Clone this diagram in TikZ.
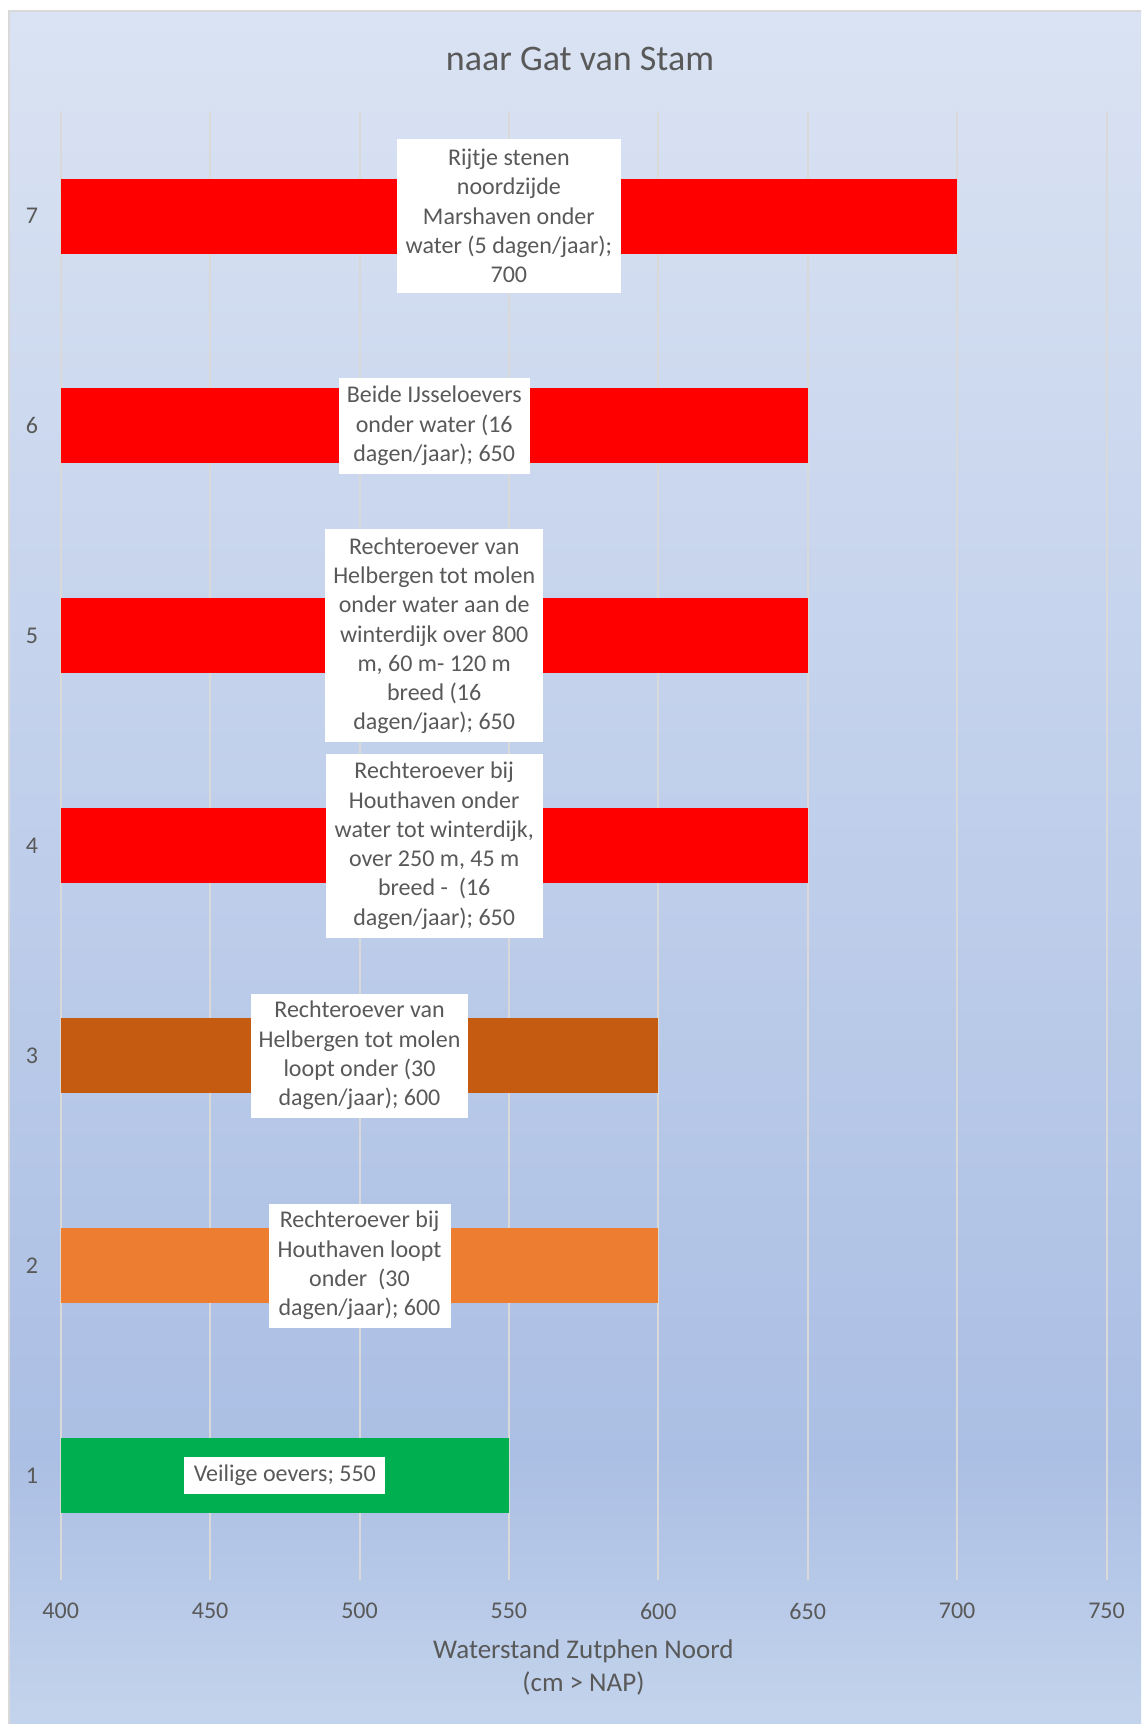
\documentclass[tikz,border=0pt]{standalone}
\usepackage{fontspec}
\setmainfont{Carlito}
\definecolor{txt}{HTML}{595959}
\definecolor{gridc}{HTML}{D9D9D9}
\definecolor{bgtop}{RGB}{218,227,243}
\definecolor{bgdark}{RGB}{171,191,228}
\definecolor{bgbot}{RGB}{196,212,236}
\definecolor{barred}{HTML}{FF0000}
\definecolor{barbrown}{HTML}{C55A11}
\definecolor{barorange}{HTML}{ED7D31}
\definecolor{bargreen}{HTML}{00B050}
\pgfdeclareverticalshading{bgshade}{100bp}{color(0bp)=(bgbot); color(25bp)=(bgbot); color(33bp)=(bgdark); color(75bp)=(bgtop); color(100bp)=(bgtop)}
\newcommand\xpos[1]{60.7+(#1-400)*2.988}
\newcommand\ycat[1]{216+(7-#1)*209.9}
\begin{document}
\begin{tikzpicture}[x=1pt,y=-1pt,
  lbl/.style={fill=white, text=txt, align=center, inner sep=0pt, font=\fontsize{24}{29.3}\selectfont},
  ticklbl/.style={text=txt, font=\fontsize{24}{29}\selectfont, inner sep=0pt},
  gridline/.style={draw=gridc, line width=2pt}]
\useasboundingbox (0,0) rectangle (1141,1724);
\fill[white] (0,0) rectangle (1141,1724);
\begin{scope}
\clip (0,0) rectangle (1141,1724);
\shade[shading=bgshade] (9,11) rectangle (1150,1730);
\draw[gridc, line width=2pt] (9,1730) -- (9,11) -- (1150,11);
\end{scope}
% gridlines
\foreach \v in {400,450,...,750}
  \draw[gridline] ({\xpos{\v}},111) -- ++(0,1469);
% bars
\foreach \k/\val/\col in {7/700/barred,6/650/barred,5/650/barred,4/650/barred,3/600/barbrown,2/600/barorange,1/550/bargreen}
  \fill[\col] ({\xpos{400}},{\ycat{\k}-37.5}) rectangle ({\xpos{\val}},{\ycat{\k}+37.5});
% title
\node[text=txt, font=\fontsize{36}{43}\selectfont, inner sep=0pt] (title) at (580,59) {naar Gat van Stam};
% category labels
\foreach \k in {1,...,7}
  \node[ticklbl] (c\k) at (32,{\ycat{\k}}) {\k};
% tick labels
\foreach \v in {400,450,...,750}
  \node[ticklbl] (t\v) at ({\xpos{\v}},1611) {\v};
% axis title
\node[text=txt, align=center, inner sep=0pt, font=\fontsize{27}{33}\selectfont] (xtitle) at (583.4,1667) {Waterstand Zutphen Noord\\(cm > NAP)};
% data labels
\node[lbl, minimum width=224pt, minimum height=154pt] (l7) at ({\xpos{550}},{\ycat{7}}) {Rijtje stenen\\noordzijde\\Marshaven onder\\water (5 dagen/jaar);\\700};
\node[lbl, minimum width=191pt, minimum height=96pt] (l6) at ({\xpos{525}},{\ycat{6}}) {Beide IJsseloevers\\onder water (16\\dagen/jaar); 650};
\node[lbl, minimum width=218pt, minimum height=213pt] (l5) at ({\xpos{525}},{\ycat{5}}) {Rechteroever van\\Helbergen tot molen\\onder water aan de\\winterdijk over 800\\m, 60 m- 120 m\\breed (16\\dagen/jaar); 650};
\node[lbl, minimum width=217pt, minimum height=184pt] (l4) at ({\xpos{525}},{\ycat{4}}) {Rechteroever bij\\Houthaven onder\\water tot winterdijk,\\over 250 m, 45 m\\breed -\ \ (16\\dagen/jaar); 650};
\node[lbl, minimum width=217pt, minimum height=124pt] (l3) at ({\xpos{500}},{\ycat{3}}) {Rechteroever van\\Helbergen tot molen\\loopt onder (30\\dagen/jaar); 600};
\node[lbl, minimum width=182pt, minimum height=124pt] (l2) at ({\xpos{500}},{\ycat{2}}) {Rechteroever bij\\Houthaven loopt\\onder\ \ (30\\dagen/jaar); 600};
\node[lbl, minimum width=201pt, minimum height=37pt] (l1) at ({\xpos{475}},{\ycat{1}}) {Veilige oevers; 550};
\end{tikzpicture}
\end{document}
